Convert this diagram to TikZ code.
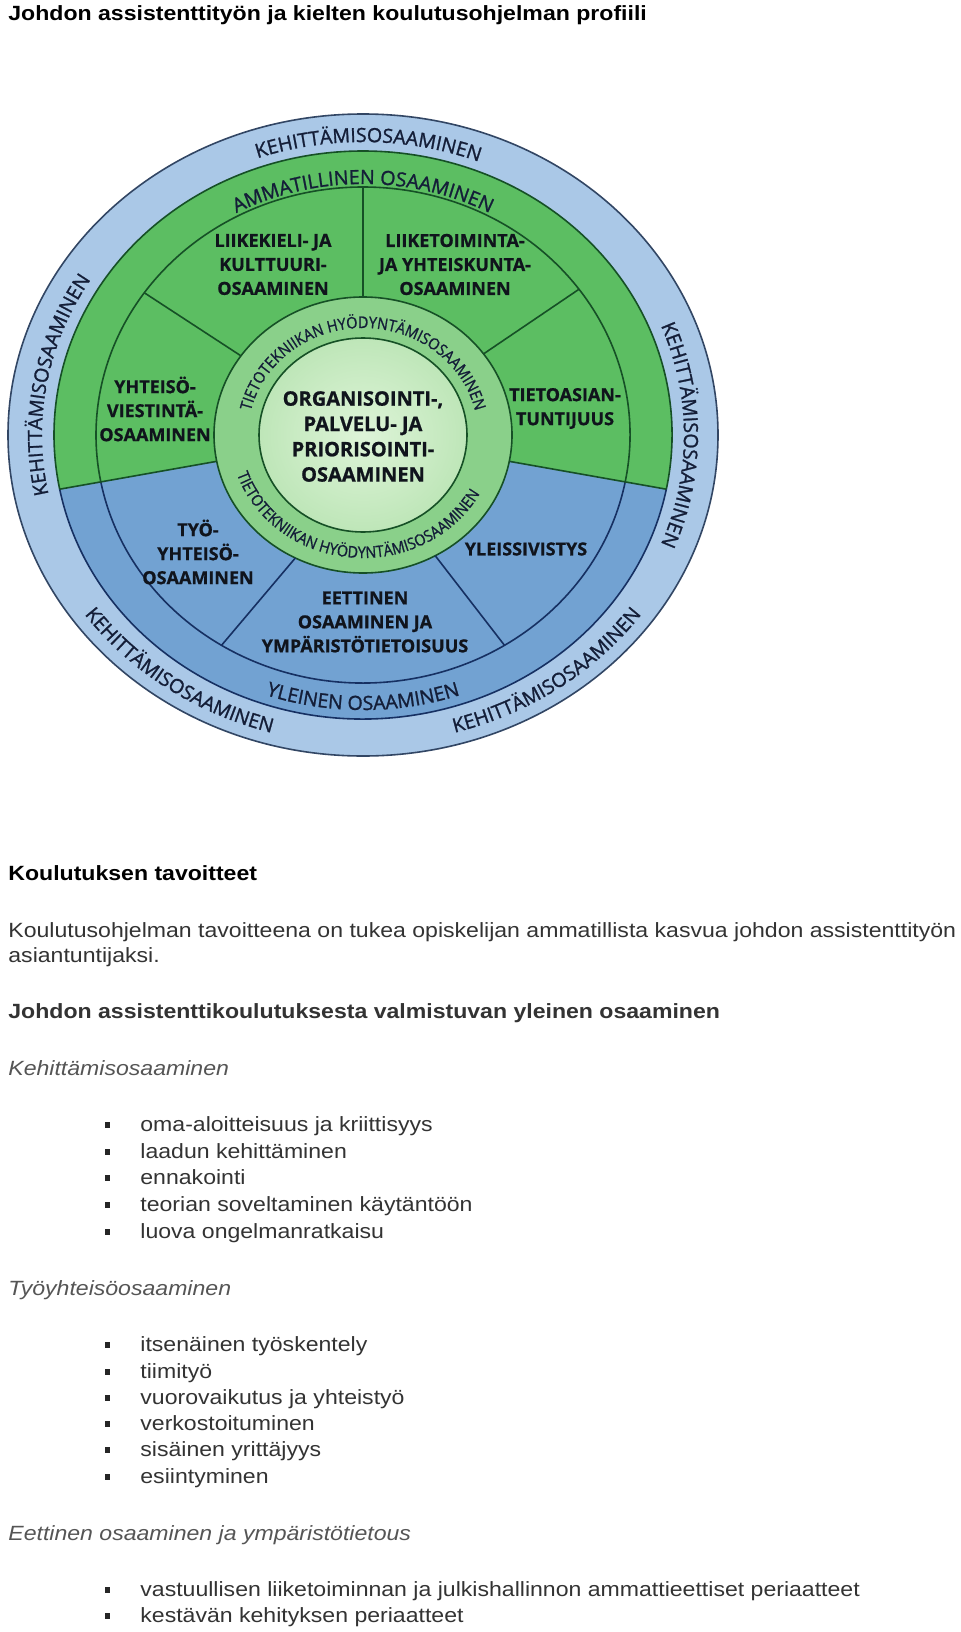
\documentclass[tikz,border=0pt]{standalone}
\usepackage{fontspec}
\setmainfont{Liberation Sans}[FakeStretch=1.12]
\newfontfamily\diafont{Open Sans}[BoldFeatures={FakeBold=0.8}]
\newfontfamily\ringfam{Open Sans}[FakeBold=1.2]
\newfontfamily\tinyfam{Open Sans}[FakeStretch=0.9,FakeBold=1.0]
\usetikzlibrary{decorations.text}
\definecolor{ringblue}{RGB}{170,200,231}
\definecolor{midblue}{RGB}{114,162,210}
\definecolor{midgreen}{RGB}{92,190,98}
\definecolor{ringgreen}{RGB}{138,208,138}
\definecolor{coregreen}{RGB}{190,230,184}
\definecolor{coreinner}{RGB}{222,244,216}
\definecolor{lgreen}{RGB}{22,80,38}
\definecolor{lblue}{RGB}{22,48,98}
\definecolor{ledge}{RGB}{50,70,100}
\definecolor{diatext}{RGB}{16,20,28}
\definecolor{ringtxtcol}{RGB}{20,30,56}
\definecolor{bodygray}{RGB}{51,51,51}
\definecolor{subgray}{RGB}{85,85,85}
\newcommand\ringfont{\ringfam\fontsize{9.8}{10}\selectfont}
\newcommand\tinyringfont{\tinyfam\fontsize{8}{8}\selectfont}
\tikzset{
  edge/.style={line width=0.8pt},
  ringtxt/.style 2 args={decorate,decoration={text along path,text align=center,text color=ringtxtcol,text={|#1|#2}}},
  bodytxt/.style={anchor=base west,inner sep=0pt,font=\fontsize{10.3}{12}\selectfont,text=bodygray},
  headtxt/.style={anchor=base west,inner sep=0pt,font=\bfseries\fontsize{10.3}{12}\selectfont,text=black},
  head2txt/.style={headtxt,text=bodygray},
  subtxt/.style={anchor=base west,inner sep=0pt,font=\itshape\fontsize{10.3}{12}\selectfont,text=subgray},
  bulletsq/.style={fill=black!85,minimum width=2.8pt,minimum height=3pt,inner sep=0pt,anchor=center},
  sectorlbl/.style={font=\diafont\bfseries\fontsize{9}{12}\selectfont,text=diatext,align=center,inner sep=0pt},
  corelbl/.style={font=\diafont\bfseries\fontsize{10}{12.65}\selectfont,text=diatext,align=center,inner sep=0pt},
}
\begin{document}
\begin{tikzpicture}[x=0.5pt,y=0.5pt]
\useasboundingbox (0,0) rectangle (960,-1632);
\fill[white] (0,0) rectangle (960,-1632);

\begin{scope}[shift={(363,-435)}]
  % fills
  \fill[ringblue] (0,0) ellipse[x radius=355,y radius=321];
  \fill[midgreen] (0,0) -- (-11:309 and 284) arc[start angle=-11,end angle=191,x radius=309,y radius=284] -- cycle;
  \fill[midblue] (0,0) -- (191:309 and 284) arc[start angle=191,end angle=349,x radius=309,y radius=284] -- cycle;
  \fill[ringgreen] (0,0) ellipse[x radius=149,y radius=138];
  \shade[inner color=coreinner,outer color=coregreen] (0,0) ellipse[x radius=104,y radius=97];
  % outlines
  \draw[edge,ledge] (0,0) ellipse[x radius=355,y radius=321];
  \draw[edge,lgreen] (-11:309 and 284) arc[start angle=-11,end angle=191,x radius=309,y radius=284];
  \draw[edge,lblue] (191:309 and 284) arc[start angle=191,end angle=349,x radius=309,y radius=284];
  \draw[edge,lgreen] (-11:267 and 248) arc[start angle=-11,end angle=191,x radius=267,y radius=248];
  \draw[edge,lblue] (191:267 and 248) arc[start angle=191,end angle=349,x radius=267,y radius=248];
  \draw[edge,lgreen] (0,0) ellipse[x radius=149,y radius=138];
  \draw[edge,lgreen] (0,0) ellipse[x radius=104,y radius=97];
  % dividers
  \draw[edge,lgreen] (90:149 and 138) -- (90:267 and 248);
  \draw[edge,lgreen] (145:149 and 138) -- (145:267 and 248);
  \draw[edge,lgreen] (36:149 and 138) -- (36:267 and 248);
  \draw[edge,lgreen] (191:149 and 138) -- (191:309 and 284);
  \draw[edge,lgreen] (-11:149 and 138) -- (-11:309 and 284);
  \draw[edge,lblue] (243:149 and 138) -- (238:267 and 248);
  \draw[edge,lblue] (299:149 and 138) -- (302:267 and 248);
  % ring texts
  \path[ringtxt={\ringfont}{KEHITTÄMISOSAAMINEN}] (124:321 and 293) arc[start angle=124,end angle=54,x radius=321,y radius=293];
  \path[ringtxt={\ringfont}{KEHITTÄMISOSAAMINEN}] (205:321 and 293) arc[start angle=205,end angle=135,x radius=321,y radius=293];
  \path[ringtxt={\ringfont}{KEHITTÄMISOSAAMINEN}] (35:321 and 293) arc[start angle=35,end angle=-35,x radius=321,y radius=293];
  \path[ringtxt={\ringfont}{KEHITTÄMISOSAAMINEN}] (202:342 and 309) arc[start angle=202,end angle=267,x radius=342,y radius=309];
  \path[ringtxt={\ringfont}{KEHITTÄMISOSAAMINEN}] (273:342 and 309) arc[start angle=273,end angle=338,x radius=342,y radius=309];
  \path[ringtxt={\ringfont}{AMMATILLINEN OSAAMINEN}] (135:271 and 251) arc[start angle=135,end angle=45,x radius=271,y radius=251];
  \path[ringtxt={\ringfont}{YLEINEN OSAAMINEN}] (225:298 and 275) arc[start angle=225,end angle=315,x radius=298,y radius=275];
  \path[ringtxt={\tinyringfont}{TIETOTEKNIIKAN HYÖDYNTÄMISOSAAMINEN}] (185:115 and 107) arc[start angle=185,end angle=-5,x radius=115,y radius=107];
  \path[ringtxt={\tinyringfont}{TIETOTEKNIIKAN HYÖDYNTÄMISOSAAMINEN}] (175:133 and 123) arc[start angle=175,end angle=355,x radius=133,y radius=123];
  % sector labels
  \node[sectorlbl] (lk) at (-90,170.5) {LIIKEKIELI- JA\\KULTTUURI-\\OSAAMINEN};
  \node[sectorlbl] (lt) at (92,170.5) {LIIKETOIMINTA-\\JA YHTEISKUNTA-\\OSAAMINEN};
  \node[sectorlbl] (yv) at (-208,26) {YHTEISÖ-\\VIESTINTÄ-\\OSAAMINEN};
  \node[sectorlbl] (ta) at (202,26.5) {TIETOASIAN-\\TUNTIJUUS};
  \node[sectorlbl] (ty) at (-165,-117) {TYÖ-\\YHTEISÖ-\\OSAAMINEN};
  \node[sectorlbl] (ee) at (2,-187) {EETTINEN\\OSAAMINEN JA\\YMPÄRISTÖTIETOISUUS};
  \node[sectorlbl] (yl) at (163,-114) {YLEISSIVISTYS};
  \node[corelbl] (core) at (0,-1.5) {ORGANISOINTI-,\\PALVELU- JA\\PRIORISOINTI-\\OSAAMINEN};
\end{scope}

% text part
\node[headtxt] (title) at (8,-20.7) {Johdon assistenttityön ja kielten koulutusohjelman profiili};
\node[headtxt] (goals) at (8,-880) {Koulutuksen tavoitteet};
\node[bodytxt] (p1) at (8,-937) {Koulutusohjelman tavoitteena on tukea opiskelijan ammatillista kasvua johdon assistenttityön};
\node[bodytxt] (p2) at (8,-962.7) {asiantuntijaksi.};
\node[head2txt] (gen) at (8,-1018) {Johdon assistenttikoulutuksesta valmistuvan yleinen osaaminen};

\node[subtxt] (s1) at (8,-1075) {Kehittämisosaaminen};
\foreach \y/\t [count=\i] in {1131.7/oma-aloitteisuus ja kriittisyys,1158.3/laadun kehittäminen,1184.6/ennakointi,1211.3/teorian soveltaminen käytäntöön,1238.1/luova ongelmanratkaisu}{
  \node[bulletsq] (ba\i) at (107.5,-\y+6.5) {};
  \node[bodytxt] (ta\i) at (140,-\y) {\t};
}
\node[subtxt] (s2) at (8,-1295) {Työyhteisöosaaminen};
\foreach \y/\t [count=\i] in {1351.7/itsenäinen työskentely,1378/tiimityö,1404.3/vuorovaikutus ja yhteistyö,1430.6/verkostoituminen,1456.9/sisäinen yrittäjyys,1483.2/esiintyminen}{
  \node[bulletsq] (bb\i) at (107.5,-\y+6.5) {};
  \node[bodytxt] (tb\i) at (140,-\y) {\t};
}
\node[subtxt] (s3) at (8,-1540) {Eettinen osaaminen ja ympäristötietous};
\foreach \y/\t [count=\i] in {1596.7/vastuullisen liiketoiminnan ja julkishallinnon ammattieettiset periaatteet,1622/kestävän kehityksen periaatteet}{
  \node[bulletsq] (bc\i) at (107.5,-\y+6.5) {};
  \node[bodytxt] (tc\i) at (140,-\y) {\t};
}
\end{tikzpicture}
\end{document}
